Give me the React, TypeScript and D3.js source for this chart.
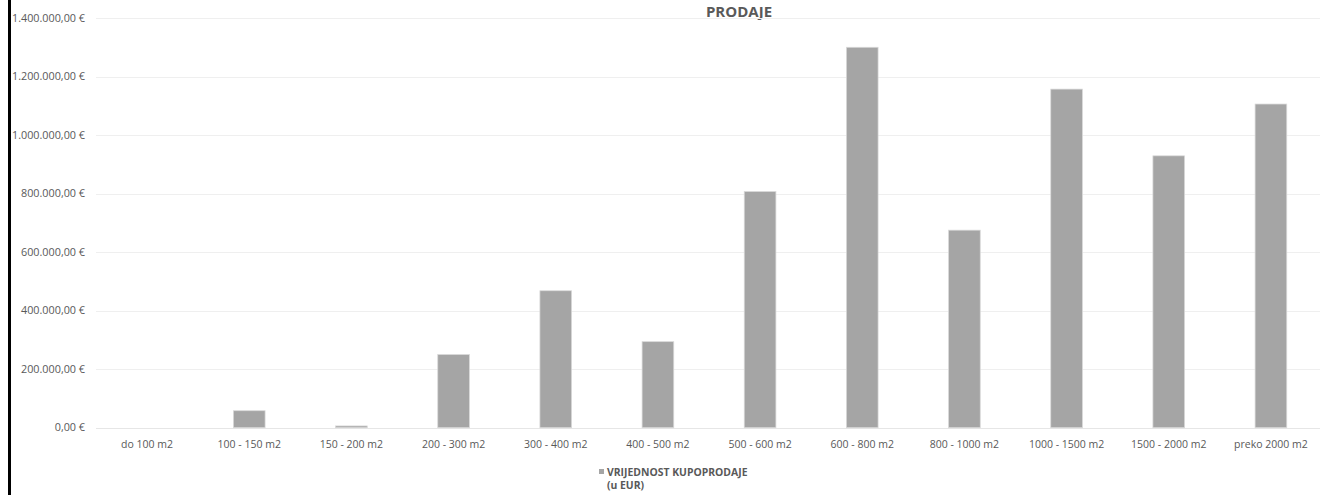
import React from "react";
import * as d3 from "d3";

const categories: string[] = [
  "do 100 m2",
  "100 - 150 m2",
  "150 - 200 m2",
  "200 - 300 m2",
  "300 - 400 m2",
  "400 - 500 m2",
  "500 - 600 m2",
  "600 - 800 m2",
  "800 - 1000 m2",
  "1000 - 1500 m2",
  "1500 - 2000 m2",
  "preko 2000 m2",
];

const values: number[] = [
  0, 58000, 6000, 250000, 468000, 294000, 807000, 1300000, 675000, 1157000, 929000, 1106000,
];

const yTicks: number[] = [0, 200000, 400000, 600000, 800000, 1000000, 1200000, 1400000];

const titleText = "PRODAJE";
const legendLines: string[] = ["VRIJEDNOST KUPOPRODAJE", "(u EUR)"];

const W = 1322;
const H = 495;

const fmt = (v: number) => {
  const parts = v.toFixed(2).split(".");
  const intPart = parts[0].replace(/\B(?=(\d{3})+(?!\d))/g, ".");
  return `${intPart},${parts[1]} €`;
};

export default function App() {
  const x = d3
    .scaleBand<string>()
    .domain(categories)
    .range([96, 1322])
    .paddingInner(0.69)
    .paddingOuter(0.345);
  const y = d3.scaleLinear().domain([0, 1400000]).range([427.7, 18]);

  const font = "'Open Sans', 'DejaVu Sans', sans-serif";

  return (
    <svg
      width={W}
      height={H}
      style={{ position: "absolute", left: 0, top: 0, display: "block", background: "#fff" }}
    >
      <rect x={0} y={0} width={W} height={H} fill="#fff" />
      {/* left border */}
      <rect x={8} y={0} width={3} height={H} fill="#000" />

      {/* title */}
      <text
        x={739}
        y={16.5}
        textAnchor="middle"
        fontFamily={font}
        fontWeight="bold"
        fontSize={15}
        fill="#595959"
      >
        {titleText}
      </text>

      {/* gridlines */}
      {yTicks.map((t) => (
        <line
          key={"g" + t}
          x1={96}
          x2={1320}
          y1={Math.round(y(t)) + 0.5}
          y2={Math.round(y(t)) + 0.5}
          stroke={t === 0 ? "#e6e6e6" : "#efefef"}
          strokeWidth={1}
        />
      ))}

      {/* y labels */}
      {yTicks.map((t) => (
        <text
          key={"l" + t}
          x={85}
          y={y(t)}
          dy="0.35em"
          textAnchor="end"
          fontFamily={font}
          fontSize={10.8}
          fill="#595959"
        >
          {fmt(t)}
        </text>
      ))}

      {/* bars */}
      {categories.map((c, i) => {
        const v = values[i];
        if (v <= 0) return null;
        const top = y(v);
        return (
          <rect
            key={"b" + c}
            x={x(c)!}
            y={top}
            width={x.bandwidth()}
            height={y(0) - top}
            fill="#a5a5a5"
            stroke="#d9d9d9"
            strokeWidth={0.75}
          />
        );
      })}

      {/* x labels */}
      {categories.map((c) => (
        <text
          key={"x" + c}
          x={x(c)! + x.bandwidth() / 2}
          y={448}
          textAnchor="middle"
          fontFamily={font}
          fontSize={10.5}
          fill="#595959"
        >
          {c}
        </text>
      ))}

      {/* legend */}
      <rect x={599} y={469} width={5} height={5} fill="#a5a5a5" />
      {legendLines.map((l, i) => (
        <text
          key={"lg" + i}
          x={607}
          y={476 + i * 13}
          fontFamily={font}
          fontWeight="bold"
          fontSize={10.4}
          fill="#595959"
        >
          {l}
        </text>
      ))}
    </svg>
  );
}
